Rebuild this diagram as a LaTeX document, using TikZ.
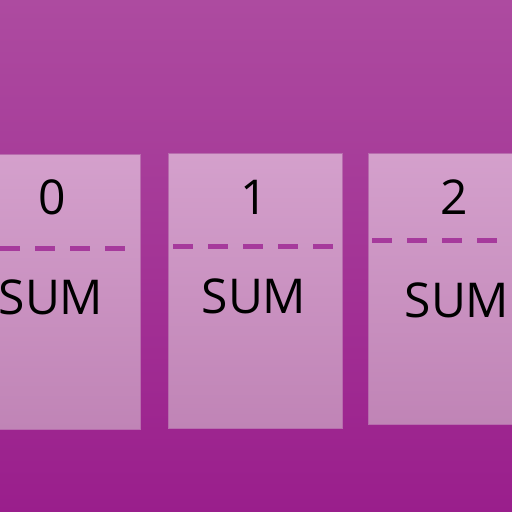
\documentclass[tikz,border=0pt]{standalone}
\usepackage{fontspec}
\setmainfont{Open Sans}
\begin{document}
\begin{tikzpicture}[x=1bp,y=-1bp,
  cell/.style={rectangle, draw=cellEdge, line width=0.8bp, top color=cellTop, bottom color=cellBot, inner sep=0, anchor=north west},
  lbl/.style={inner sep=0, font=\fontsize{48bp}{56bp}\selectfont, text=black},
  sep/.style={line width=5bp, draw=dashCol, dash pattern=on 20bp off 15bp}]
\definecolor{bgTop}{HTML}{AD4BA0}
\definecolor{bgBot}{HTML}{9A1E8C}
\definecolor{cellTop}{HTML}{D4A0CC}
\definecolor{cellBot}{HTML}{C084B6}
\definecolor{cellEdge}{HTML}{B86CAE}
\definecolor{dashCol}{HTML}{A63A9C}
\useasboundingbox (0,0) rectangle (512,512);
\shade[top color=bgTop, bottom color=bgBot] (0,0) rectangle (512,512);
\begin{scope}
\clip (0,0) rectangle (512,512);
\node[cell, minimum width=175bp, minimum height=275bp] (b0) at (-35,154) {};
\node[cell, minimum width=174bp, minimum height=275bp] (b1) at (168,153) {};
\node[cell, minimum width=175bp, minimum height=271bp] (b2) at (368,153) {};
\coordinate (d0a) at (0,248); \coordinate (d0b) at (130,248);
\coordinate (d1a) at (173,246.5); \coordinate (d1b) at (336,246.5);
\coordinate (d2a) at (372,240); \coordinate (d2b) at (512,240);
\draw[sep] (d0a) -- (d0b);
\draw[sep] (d1a) -- (d1b);
\draw[sep] (d2a) -- (d2b);
\node[lbl] (n0) at (52,197) {0};
\node[lbl] (n1) at (254,197) {1};
\node[lbl] (n2) at (454,197) {2};
\node[lbl] (s0) at (51,297) {SUM};
\node[lbl] (s1) at (254,296) {SUM};
\node[lbl] (s2) at (457,300) {SUM};
\end{scope}
\end{tikzpicture}
\end{document}
